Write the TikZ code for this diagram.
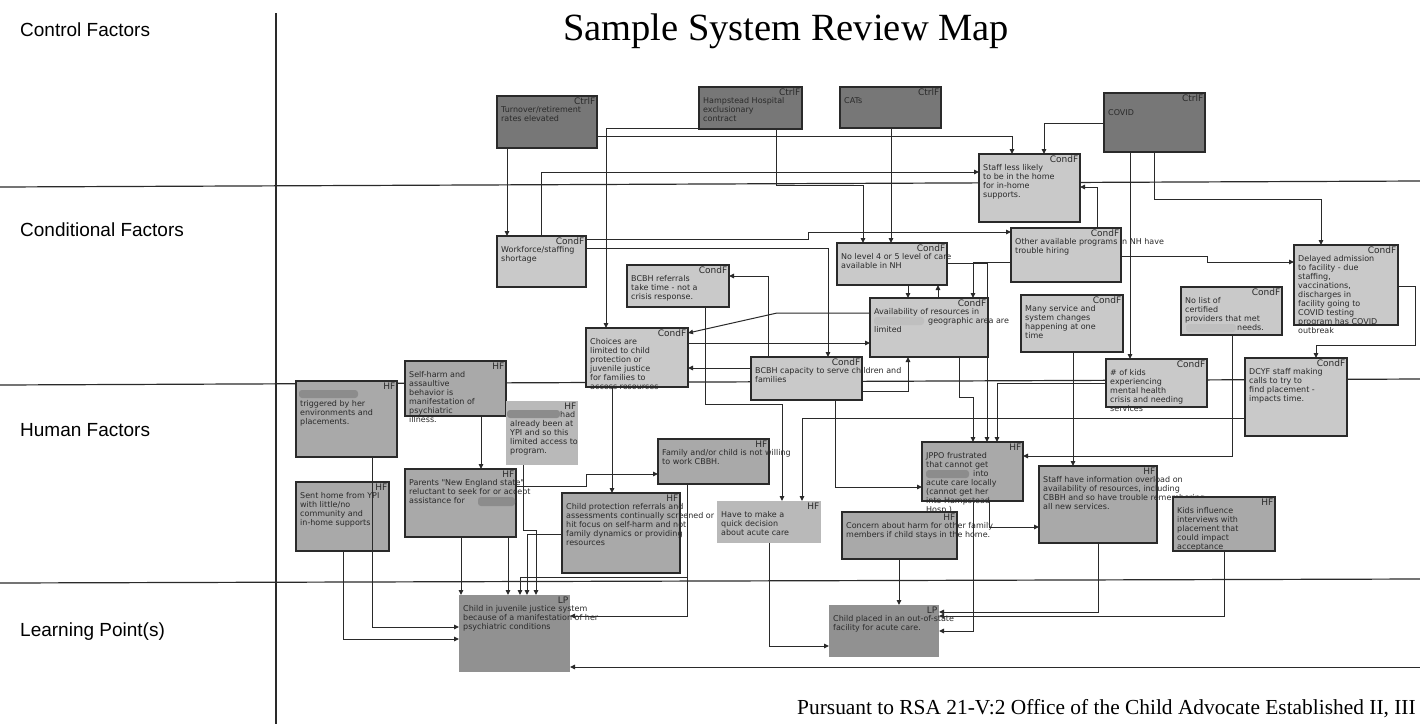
\documentclass[tikz,border=0pt]{standalone}
\usepackage{fontspec}
\setmainfont{Liberation Serif}
\setsansfont{Liberation Sans}
\newfontfamily\boxfont{DejaVu Sans}
\usetikzlibrary{arrows.meta}
\definecolor{ctrlc}{HTML}{777777}
\definecolor{condc}{HTML}{C9C9C9}
\definecolor{hfc}{HTML}{A9A9A9}
\definecolor{hfl}{HTML}{B9B9B9}
\definecolor{lpc}{HTML}{919191}
\definecolor{inkc}{HTML}{2A2A2A}
\tikzset{
 boxbase/.style={rectangle, inner sep=0pt, outer sep=0pt, anchor=north west},
 ctrlst/.style={boxbase, fill=ctrlc, draw=inkc, line width=1.3pt},
 condst/.style={boxbase, fill=condc, draw=inkc, line width=1.3pt},
 hfst/.style={boxbase, fill=hfc, draw=inkc, line width=1.3pt},
 hfnb/.style={boxbase, fill=hfl},
 lpst/.style={boxbase, fill=lpc},
 tagst/.style={inner sep=1.5pt, anchor=north east, font=\boxfont\fontsize{9}{10}\selectfont, text=inkc},
 txtst/.style={inner sep=0pt, anchor=north west, align=left, font=\boxfont\fontsize{8}{9}\selectfont, text=inkc},
 conn/.style={draw=inkc, line width=1pt, -{Triangle[length=5pt,width=4.5pt]}},
 divider/.style={draw=inkc, line width=1.2pt},
 sidelabel/.style={anchor=west, font=\sffamily\fontsize{19}{22}\selectfont, inner sep=0pt},
 blob/.style={fill=black!45, rounded corners=3pt},
 lblob/.style={fill=black!25, rounded corners=3pt},
}
\newcommand\mybox[8]{%
 \node[#2, minimum width=#5pt, minimum height=#6pt] (#1) at (#3,#4) {};
 \node[tagst] (#1t) at (#1.north east) {#7};
 \node[txtst] (#1x) at ([xshift=4pt,yshift=-10pt]#1.north west) {#8};
}
\begin{document}
\begin{tikzpicture}[x=1pt,y=-1pt]
\useasboundingbox[fill=white] (0,0) rectangle (1420,724);
% frame
\draw[divider] (0,187) -- (1420,181);
\draw[divider] (0,385) -- (1420,379);
\draw[divider] (0,583) -- (1420,579);
\draw[divider] (276,13) -- (276,724);
\node[sidelabel] (lab1) at (20,30) {Control Factors};
\node[sidelabel] (lab2) at (20,230) {Conditional Factors};
\node[sidelabel] (lab3) at (20,430) {Human Factors};
\node[sidelabel] (lab4) at (20,632) {Learning Point(s)};
\node[font=\fontsize{38.5}{42}\selectfont, inner sep=0pt] (title) at (786,31) {Sample System Review Map};
\node[anchor=west, font=\fontsize{21.4}{24}\selectfont, inner sep=0pt] (foot) at (797,709) {Pursuant to RSA 21-V:2 Office of the Child Advocate Established II, III};
% control factors
\mybox{c1}{ctrlst}{497}{96}{100}{52}{CtrlF}{Turnover/retirement\\rates elevated}
\mybox{c2}{ctrlst}{699}{87}{103}{42}{CtrlF}{Hampstead Hospital\\exclusionary\\contract}
\mybox{c3}{ctrlst}{840}{87}{101}{41}{CtrlF}{CATs}
\mybox{c4}{ctrlst}{1104}{93}{101}{59}{CtrlF}{\rule{0pt}{3pt}\\COVID}
% conditional factors
\mybox{s1}{condst}{979}{154}{101}{68}{CondF}{Staff less likely\\to be in the home\\for in-home\\supports.}
\mybox{s2}{condst}{497}{236}{89}{51}{CondF}{Workforce/staffing\\shortage}
\mybox{s3}{condst}{837}{243}{110}{42}{CondF}{No level 4 or 5 level of care\\available in NH}
\mybox{s4}{condst}{1011}{228}{110}{54}{CondF}{Other available programs in NH have\\trouble hiring}
\mybox{s5}{condst}{1294}{245}{104}{80}{CondF}{Delayed admission\\to facility - due\\staffing,\\vaccinations,\\discharges in\\facility going to\\COVID testing\\program has COVID\\outbreak}
\mybox{s6}{condst}{627}{265}{102}{42}{CondF}{BCBH referrals\\take time - not a\\crisis response.}
\mybox{s7}{condst}{870}{298}{118}{59}{CondF}{Availability of resources in\\\hspace{54pt}geographic area are\\limited}
\mybox{s8}{condst}{586}{328}{102}{59}{CondF}{Choices are\\limited to child\\protection or\\juvenile justice\\for families to\\access resources}
\mybox{s9}{condst}{751}{357}{111}{43}{CondF}{BCBH capacity to serve children and\\families}
\mybox{s10}{condst}{1021}{295}{102}{57}{CondF}{Many service and\\system changes\\happening at one\\time}
\mybox{s11}{condst}{1181}{287}{101}{48}{CondF}{No list of\\certified\\providers that met\\\hspace{52pt}needs.}
\mybox{s12}{condst}{1106}{359}{101}{48}{CondF}{\# of kids\\experiencing\\mental health\\crisis and needing\\services}
\mybox{s13}{condst}{1245}{358}{102}{78}{CondF}{DCYF staff making\\calls to try to\\find placement -\\impacts time.}
% human factors
\mybox{h1}{hfst}{296}{381}{101}{76}{HF}{\rule{0pt}{6pt}\\triggered by her\\environments and\\placements.}
\mybox{h2}{hfst}{405}{361}{101}{55}{HF}{Self-harm and\\assaultive\\behavior is\\manifestation of\\psychiatric\\illness.}
\mybox{h3}{hfnb}{506}{401}{72}{64}{HF}{\hspace{50pt}had\\already been at\\YPI and so this\\limited access to\\program.}
\mybox{h4}{hfst}{296}{482}{93}{69}{HF}{Sent home from YPI\\with little/no\\community and\\in-home supports}
\mybox{h5}{hfst}{405}{469}{111}{68}{HF}{Parents "New England state"\\reluctant to seek for or accept\\assistance for}
\mybox{h6}{hfst}{658}{439}{111}{45}{HF}{Family and/or child is not willing\\to work CBBH.}
\mybox{h7}{hfst}{562}{493}{118}{80}{HF}{Child protection referrals and\\assessments continually screened or\\hit focus on self-harm and not\\family dynamics or providing\\resources}
\mybox{h8}{hfnb}{717}{501}{104}{42}{HF}{Have to make a\\quick decision\\about acute care}
\mybox{h9}{hfst}{922}{442}{101}{59}{HF}{JPPO frustrated\\that cannot get\\\hspace{47pt}into\\acute care locally\\(cannot get her\\into Hampstead\\Hosp.)}
\mybox{h10}{hfst}{842}{512}{115}{47}{HF}{Concern about harm for other family\\members if child stays in the home.}
\mybox{h11}{hfst}{1039}{466}{118}{77}{HF}{Staff have information overload on\\availability of resources, including\\CBBH and so have trouble remembering\\all new services.}
\mybox{h12}{hfst}{1173}{497}{102}{54}{HF}{Kids influence\\interviews with\\placement that\\could impact\\acceptance}
% learning points
\mybox{l1}{lpst}{459}{595}{111}{77}{LP}{Child in juvenile justice system\\because of a manifestation of her\\psychiatric conditions}
\mybox{l2}{lpst}{829}{605}{110}{52}{LP}{Child placed in an out-of-state\\facility for acute care.}
% redactions
\fill[blob] (299,390) rectangle (358,398);
\fill[blob] (507,410) rectangle (560,418);
\fill[blob] (478,497) rectangle (515,506);
\fill[blob] (926,470) rectangle (969,478);
\fill[lblob] (874,317) rectangle (924,325);
\fill[lblob] (1186,324) rectangle (1236,332);
% connectors
\draw[conn] ([xshift=10pt]c1.south west) -- ([xshift=10pt]s2.north west);
\draw[conn] ([yshift=12pt]c1.south east) -| ([xshift=33pt]s1.north west);
\draw[conn] ([yshift=1pt]c2.south west) -| ([xshift=20pt]s8.north west);
\draw[conn] ([xshift=77pt]c2.south west) -- (776,185) -| ([xshift=26pt]s3.north west);
\draw[conn] ([xshift=51pt]c3.south west) -- ([xshift=54pt]s3.north west);
\draw[conn] ([yshift=-30pt]c4.north west) -| ([xshift=65pt]s1.north west);
\draw[conn] ([xshift=50pt]c4.south west) -- (1154,199) -| ([xshift=27pt]s5.north west);
\draw[conn] ([xshift=26pt]c4.south west) -- ([xshift=24pt]s12.north west);
\draw[conn] ([xshift=44pt]s2.north west) |- ([yshift=-18pt]s1.north west);
\draw[conn] ([yshift=-3pt]s2.north east) -- (808,239) -- (808,232) -- ([yshift=-4pt]s4.north west);
\draw[conn] ([yshift=-12pt]s2.north east) -| ([xshift=77pt]s9.north west);
\draw[conn] ([xshift=17pt]s9.north west) |- ([yshift=-11pt]s6.north east);
\draw[conn] ([xshift=78pt]s6.south west) -- (705,404) -| ([xshift=65pt]h8.north west);
\draw[conn] ([yshift=-60pt]s13.north west) -| ([xshift=85pt]h8.north west);
\draw[conn] ([yshift=-15pt]s7.north west) -- (777,313) -- ([yshift=-5pt]s8.north east);
\draw[conn] ([yshift=-15pt]s8.north east) -- ([yshift=-45pt]s7.north west);
\draw[conn] ([yshift=-11pt]s9.north west) -- ([yshift=-40pt]s8.north east);
\draw[conn] ([yshift=9pt]s9.south east) -| ([xshift=38pt]s7.south west);
\draw[conn] ([xshift=71pt]s3.south west) -- ([xshift=38pt]s7.north west);
\draw[conn] ([xshift=68pt]s7.north west) -- ([xshift=101pt]s3.south west);
\draw[conn] ([yshift=-20pt]s3.north east) -| ([xshift=65pt]h9.north west);
\draw[conn] ([xshift=89pt]s7.south west) -- (959,397) -| ([xshift=51pt]h9.north west);
\draw[conn] ([yshift=-24pt]s12.north west) -| ([xshift=75pt]h9.north west);
\draw[conn] ([yshift=-34pt]s4.north west) -| ([xshift=103pt]s7.north west);
\draw[conn] ([xshift=86pt]s4.north west) |- ([yshift=-33pt]s1.north east);
\draw[conn] ([yshift=-28pt]s4.north east) -- (1207,256) -- (1207,262) -- ([yshift=-17pt]s5.north west);
\draw[conn] ([yshift=-41pt]s5.north east) -- (1415,286) -- (1415,345) -| ([xshift=71pt]s13.north west);
\draw[conn] ([xshift=52pt]s10.south west) -- ([xshift=34pt]h11.north west);
\draw[conn] ([xshift=51pt]s11.south west) |- ([yshift=-14pt]h9.north east);
\draw[conn] ([xshift=84pt]s9.south west) |- ([yshift=-45pt]h9.north west);
\draw[conn] ([xshift=26pt]s8.south west) -- ([xshift=50pt]h7.north west);
\draw[conn] ([xshift=76pt]h2.south west) -- ([xshift=76pt]h5.north west);
\draw[conn] ([yshift=-17pt]h5.north east) -- (586,486) -- (586,474) -- ([yshift=-35pt]h6.north west);
\draw[conn] ([xshift=56pt]h5.south west) -- ([xshift=2pt]l1.north west);
\draw[conn] ([xshift=103pt]h5.south west) -- ([xshift=49pt]l1.north west);
\draw[conn] ([xshift=76pt]h1.south west) |- ([yshift=-32pt]l1.north west);
\draw[conn] ([xshift=47pt]h4.south west) |- ([yshift=-44pt]l1.north west);
\draw[conn] ([yshift=-41pt]h7.north west) -| ([xshift=68pt]l1.north west);
\draw[conn] ([xshift=17pt]h3.south west) -- (523,530) -- (536,530) -- ([xshift=77pt]l1.north west);
\draw[conn] ([xshift=29pt]h6.south west) -- (687,577) -| ([xshift=61pt]l1.north west);
\draw[conn] ([xshift=29pt]h6.south west) |- ([yshift=-21pt]l1.north east);
\draw[conn] ([xshift=52pt]h8.south west) |- ([yshift=-41pt]l2.north west);
\draw[conn] ([xshift=57pt]h10.south west) -- ([xshift=70pt]l2.north west);
\draw[conn] ([xshift=51pt]h9.south west) |- ([yshift=-26pt]l2.north east);
\draw[conn] ([xshift=59pt]h11.south west) |- ([yshift=-7pt]l2.north east);
\draw[conn] ([xshift=51pt]h12.south west) |- ([yshift=-11pt]l2.north east);
\draw[conn] ([xshift=67pt]h9.south west) |- ([yshift=-61pt]h11.north west);
\coordinate (edgeA) at (1420,667);
\draw[conn] (edgeA) -- ([yshift=5pt]l1.south east);
\end{tikzpicture}
\end{document}
